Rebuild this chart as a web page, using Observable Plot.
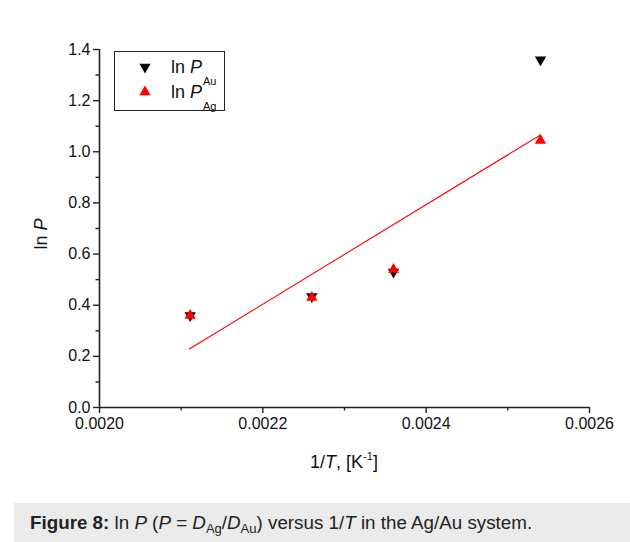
<!DOCTYPE html>
<html>
<head>
<meta charset="utf-8">
<script src="https://cdn.jsdelivr.net/npm/d3@7"></script>
<script src="https://cdn.jsdelivr.net/npm/@observablehq/plot@0.6"></script>
<style>
  html, body { margin: 0; padding: 0; background: #fff; }
  #wrap { position: relative; width: 630px; height: 542px; overflow: hidden; font-family: "Liberation Sans", Arial, sans-serif; }
  #chart { position: absolute; left: 0; top: 0; }
  #caption { position: absolute; left: 14px; top: 503px; width: 616px; height: 39px; background: #ebebeb;
             font-size: 18.8px; color: #222; line-height: 39px; padding-left: 16px; box-sizing: border-box; white-space: nowrap; }
  #caption sub { font-size: 13px; vertical-align: -4px; line-height: 0; }
</style>
</head>
<body>
<div id="wrap">
  <div id="chart"></div>
  <div id="caption"><b>Figure 8:</b> ln <i>P</i> (<i>P</i> = <i>D</i><sub>Ag</sub>/<i>D</i><sub>Au</sub>) versus 1/<i>T</i> in the Ag/Au system.</div>
</div>
<script>
// ---- data ----
const invT = [0.002111, 0.002260, 0.002360, 0.002540];
const lnPAu = [0.360, 0.434, 0.530, 1.360];
const lnPAg = [0.360, 0.430, 0.540, 1.044];
const fitX = [0.002110, 0.002540];
const fitY = [0.229, 1.066];
const xTicks = [0.0020, 0.0022, 0.0024, 0.0026];
const xMinor = [0.0021, 0.0023, 0.0025];
const yTicks = [0.0, 0.2, 0.4, 0.6, 0.8, 1.0, 1.2, 1.4];
const yMinor = [0.1, 0.3, 0.5, 0.7, 0.9, 1.1, 1.3];
const legendLabels = [["ln ", "P", "Au"], ["ln ", "P", "Ag"]];

const au = invT.map((x, i) => ({x, y: lnPAu[i]}));
const ag = invT.map((x, i) => ({x, y: lnPAg[i]}));
const fit = fitX.map((x, i) => ({x, y: fitY[i]}));

const FONT = '"Liberation Sans", Arial, sans-serif';
const axisColor = "#222";

const plot = Plot.plot({
  width: 630, height: 500,
  marginLeft: 99, marginRight: 41, marginTop: 49, marginBottom: 93,
  x: {domain: [0.0020, 0.0026]},
  y: {domain: [0, 1.4]},
  style: {fontFamily: FONT, fontSize: "16px", color: "#111", background: "transparent"},
  marks: [
    Plot.axisX({ticks: xTicks, tickSize: 6, tickPadding: 4, tickFormat: d3.format(".4f"), label: null, stroke: axisColor, strokeWidth: 1.4, fontSize: 16}),
    Plot.axisX({ticks: xMinor, tickSize: 3.5, tickFormat: () => "", label: null, stroke: axisColor, strokeWidth: 1.4}),
    Plot.axisY({ticks: yTicks, tickSize: 6, tickPadding: 3, tickFormat: d3.format(".1f"), label: null, stroke: axisColor, strokeWidth: 1.4, fontSize: 16}),
    Plot.axisY({ticks: yMinor, tickSize: 3.5, tickFormat: () => "", label: null, stroke: axisColor, strokeWidth: 1.4}),
    Plot.ruleY([0], {stroke: axisColor, strokeWidth: 1.6}),
    Plot.ruleX([0.0020], {stroke: axisColor, strokeWidth: 1.6}),
    Plot.line(fit, {x: "x", y: "y", stroke: "#ff0000", strokeWidth: 1.1}),
    Plot.dot(au, {x: "x", y: "y", symbol: "triangle", rotate: 180, fill: "black", r: 4.2}),
    Plot.dot(ag, {x: "x", y: "y", symbol: "triangle", fill: "#ff0000", r: 4.2})
  ]
});
document.getElementById("chart").appendChild(plot);

const svg = d3.select(plot);
const sx = plot.scale("x"), sy = plot.scale("y");

// Y axis label: ln P
const yl = svg.append("text")
  .attr("transform", `translate(47,234) rotate(-90)`)
  .attr("text-anchor", "middle").attr("font-family", FONT).attr("font-size", 18).attr("fill", "#111");
yl.append("tspan").text("ln ");
yl.append("tspan").attr("font-style", "italic").text("P");

// X axis label: 1/T, [K-1]
const xl = svg.append("text")
  .attr("x", (sx.apply(0.0020) + sx.apply(0.0026)) / 2).attr("y", 468)
  .attr("text-anchor", "middle").attr("font-family", FONT).attr("font-size", 18).attr("fill", "#111");
xl.append("tspan").text("1/");
xl.append("tspan").attr("font-style", "italic").text("T");
xl.append("tspan").text(", [K");
xl.append("tspan").attr("font-size", 11).attr("dy", -8).text("-1");
xl.append("tspan").attr("dy", 8).text("]");

// Legend
const lg = svg.append("g").attr("text-anchor", "start");
lg.append("rect").attr("x", 114.5).attr("y", 51.5).attr("width", 110).attr("height", 59)
  .attr("fill", "white").attr("stroke", "#222").attr("stroke-width", 1);
const sym = d3.symbol(d3.symbolTriangle, Math.PI * 4.2 * 4.2);
legendLabels.forEach((lab, i) => {
  const cy = 67 + i * 25;
  lg.append("path").attr("d", sym()).attr("transform", `translate(145,${cy}) rotate(${i === 0 ? 180 : 0})`)
    .attr("fill", i === 0 ? "black" : "#ff0000");
  const t = lg.append("text").attr("x", 171).attr("y", cy + 6).attr("text-anchor", "start")
    .attr("font-family", FONT).attr("font-size", 18).attr("fill", "#111");
  t.append("tspan").text(lab[0]);
  t.append("tspan").attr("font-style", "italic").text(lab[1]);
  t.append("tspan").attr("font-size", 11).attr("dy", 12).attr("dx", 1).text(lab[2]);
});
</script>
</body>
</html>
